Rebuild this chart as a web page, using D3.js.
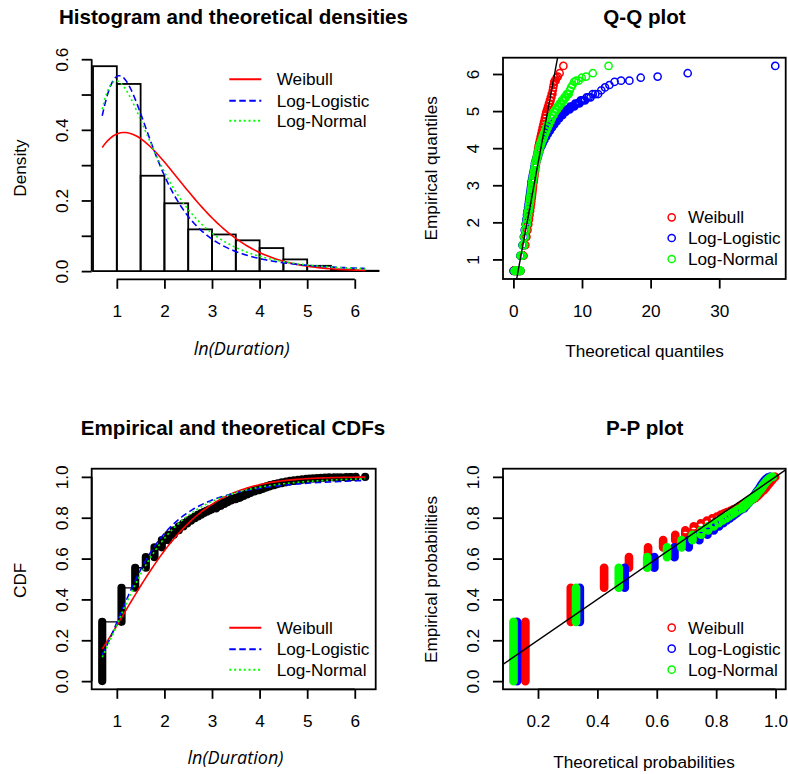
<!DOCTYPE html>
<html>
<head>
<meta charset="utf-8">
<script src="https://cdn.jsdelivr.net/npm/d3@7/dist/d3.min.js"></script>
<style>
body { margin: 0; background: #fff; }
text { font-family: "Liberation Sans", Arial, sans-serif; fill: #000; }
</style>
</head>
<body>
<svg width="788" height="774"></svg>
<script>
// observed durations (distinct values) and how many times each one occurs
var durations = [2, 3, 4, 5, 6, 7, 8, 9, 10, 11, 12, 13, 14, 15, 16, 17, 18, 19, 20,
    22, 24, 26, 28, 30, 33, 36, 39, 42, 45, 49, 54, 58, 63, 68, 74, 80, 87,
    95, 103, 112, 122, 133, 145, 155, 168, 182, 198, 215, 235,
    260, 281, 300, 327, 337, 365, 376, 412, 502];
var counts = [1085, 624, 367, 194, 180, 131, 100, 80, 72, 57, 50, 40, 35, 33, 28, 25, 23, 20, 17,
    45, 38, 33, 29, 26, 23, 33, 30, 28, 26, 24, 22, 26, 23, 21, 19, 17, 16,
    14, 12, 11, 9, 9, 7, 7, 6, 5, 4, 3, 3,
    1, 1, 1, 1, 2, 1, 1, 1, 1];

// fitted distributions on ln(Duration)
var fitNames = ["Weibull", "Log-Logistic", "Log-Normal"];
var fitColors = ["#ff0000", "#0000ff", "#00ff00"];
var fitDash = [null, "6.5,3.5", "2,2.8"];
var weibullPar = [1.68, 1.98];      // shape, scale
var loglogisPar = [2.70, 1.4025];   // shape, scale
var lognormPar = [0.37, 0.62];      // meanlog, sdlog

var histBreaks = [0.5, 1, 1.5, 2, 2.5, 3, 3.5, 4, 4.5, 5, 5.5, 6, 6.5];
var densTicks = [0, 0.1, 0.2, 0.3, 0.4, 0.5, 0.6];
var lnTicks = [1, 2, 3, 4, 5, 6];
var qqXTicks = [0, 10, 20, 30];
var qqYTicks = [1, 2, 3, 4, 5, 6];
var probTicks = [0, 0.2, 0.4, 0.6, 0.8, 1.0];
var ppXTicks = [0.2, 0.4, 0.6, 0.8, 1.0];

var FS = "17.2px";

function pnorm(z) {
    var t = 1 / (1 + 0.2316419 * Math.abs(z));
    var d = 0.3989423 * Math.exp(-z * z / 2);
    var p = d * t * (0.3193815 + t * (-0.3565638 + t * (1.781478 + t * (-1.821256 + t * 1.330274))));
    return z > 0 ? 1 - p : p;
}
function qnorm(p) {
    var a = [-39.69683028665376, 220.9460984245205, -275.9285104469687, 138.3577518672690, -30.66479806614716, 2.506628277459239];
    var b = [-54.47609879822406, 161.5858368580409, -155.6989798598866, 66.80131188771972, -13.28068155288572];
    var c = [-0.007784894002430293, -0.3223964580411365, -2.400758277161838, -2.549732539343734, 4.374664141464968, 2.938163982698783];
    var d = [0.007784695709041462, 0.3224671290700398, 2.445134137142996, 3.754408661907416];
    var q, r;
    if (p < 0.02425) {
        q = Math.sqrt(-2 * Math.log(p));
        return (((((c[0] * q + c[1]) * q + c[2]) * q + c[3]) * q + c[4]) * q + c[5]) / ((((d[0] * q + d[1]) * q + d[2]) * q + d[3]) * q + 1);
    }
    if (p > 1 - 0.02425) {
        q = Math.sqrt(-2 * Math.log(1 - p));
        return -(((((c[0] * q + c[1]) * q + c[2]) * q + c[3]) * q + c[4]) * q + c[5]) / ((((d[0] * q + d[1]) * q + d[2]) * q + d[3]) * q + 1);
    }
    q = p - 0.5; r = q * q;
    return (((((a[0] * r + a[1]) * r + a[2]) * r + a[3]) * r + a[4]) * r + a[5]) * q / (((((b[0] * r + b[1]) * r + b[2]) * r + b[3]) * r + b[4]) * r + 1);
}

var dists = [
    {
        pdf: function(x) { var k = weibullPar[0], l = weibullPar[1]; return k / l * Math.pow(x / l, k - 1) * Math.exp(-Math.pow(x / l, k)); },
        cdf: function(x) { return 1 - Math.exp(-Math.pow(x / weibullPar[1], weibullPar[0])); },
        q: function(p) { return weibullPar[1] * Math.pow(-Math.log(1 - p), 1 / weibullPar[0]); }
    },
    {
        pdf: function(x) { var b = loglogisPar[0], a = loglogisPar[1], u = Math.pow(x / a, b); return b / a * Math.pow(x / a, b - 1) / ((1 + u) * (1 + u)); },
        cdf: function(x) { return 1 / (1 + Math.pow(x / loglogisPar[1], -loglogisPar[0])); },
        q: function(p) { return loglogisPar[1] * Math.pow(p / (1 - p), 1 / loglogisPar[0]); }
    },
    {
        pdf: function(x) { var m = lognormPar[0], s = lognormPar[1], z = (Math.log(x) - m) / s; return Math.exp(-z * z / 2) / (x * s * Math.sqrt(2 * Math.PI)); },
        cdf: function(x) { return pnorm((Math.log(x) - lognormPar[0]) / lognormPar[1]); },
        q: function(p) { return Math.exp(lognormPar[0] + lognormPar[1] * qnorm(p)); }
    }
];

// sorted sample of ln(Duration)
var sample = [];
durations.forEach(function(d, i) {
    for (var j = 0; j < counts[i]; j++) sample.push(Math.log(d));
});
var n = sample.length;
var pp = sample.map(function(v, i) { return (i + 0.5) / n; });

var svg = d3.select("svg");

function extend(ext) {
    var r = ext[1] - ext[0];
    return [ext[0] - 0.04 * r, ext[1] + 0.04 * r];
}

var panels = [
    {l: 91.7, r: 375.7, t: 58, b: 279.3},
    {l: 503, r: 785.7, t: 57.7, b: 279},
    {l: 91.7, r: 375.7, t: 468.7, b: 689.3},
    {l: 503, r: 785.7, t: 468.7, b: 689.3}
];

panels.forEach(function(p, i) {
    svg.append("clipPath").attr("id", "clip" + i)
        .append("rect").attr("x", p.l).attr("y", p.t)
        .attr("width", p.r - p.l).attr("height", p.b - p.t);
});

function circlesPath(xs, ys, r) {
    var s = "";
    for (var i = 0; i < xs.length; i++) {
        s += "M" + (xs[i] - r).toFixed(2) + "," + ys[i].toFixed(2) +
            "a" + r + "," + r + " 0 1,0 " + (2 * r) + ",0a" + r + "," + r + " 0 1,0 " + (-2 * r) + ",0";
    }
    return s;
}

function xAxis(p, x, ticks, fmt) {
    var g = svg.append("g").attr("transform", "translate(0," + p.b + ")");
    g.call(d3.axisBottom(x).tickValues(ticks).tickFormat(fmt).tickSizeOuter(0).tickSize(9.5));
    g.select(".domain").attr("d", "M" + x(ticks[0]) + ",0H" + x(ticks[ticks.length - 1]));
    g.selectAll("line, path").attr("stroke", "#000").attr("stroke-width", 1.8);
    g.selectAll("text").attr("y", 37.5).attr("dy", 0)
        .style("font-size", FS).style("font-family", "Liberation Sans, Arial, sans-serif").attr("fill", "#000");
    return g;
}

function yAxis(p, y, ticks, fmt) {
    var g = svg.append("g").attr("transform", "translate(" + p.l + ",0)");
    g.call(d3.axisLeft(y).tickValues(ticks).tickFormat(fmt).tickSizeOuter(0).tickSize(10));
    g.select(".domain").attr("d", "M0," + y(ticks[0]) + "V" + y(ticks[ticks.length - 1]));
    g.selectAll("line, path").attr("stroke", "#000").attr("stroke-width", 1.8);
    g.selectAll("text").attr("transform", "rotate(-90)").attr("x", 0).attr("y", -23.6).attr("dy", 0)
        .attr("text-anchor", "middle")
        .style("font-size", FS).style("font-family", "Liberation Sans, Arial, sans-serif").attr("fill", "#000");
    return g;
}

function box(p) {
    svg.append("rect").attr("x", p.l).attr("y", p.t).attr("width", p.r - p.l).attr("height", p.b - p.t)
        .attr("fill", "none").attr("stroke", "#000").attr("stroke-width", 1.8);
}

function title(txt, cx, y) {
    svg.append("text").attr("x", cx).attr("y", y).attr("text-anchor", "middle")
        .style("font-size", "20.6px").style("font-weight", "bold").text(txt);
}

function label(txt, cx, y, rotate, italic) {
    var t = svg.append("text").attr("text-anchor", "middle").style("font-size", FS).text(txt);
    if (rotate) t.attr("transform", "translate(" + cx + "," + y + ") rotate(-90)");
    else t.attr("x", cx).attr("y", y);
    if (italic) t.style("font-style", "italic").style("font-family", "'Open Sans', 'DejaVu Sans', sans-serif").style("font-size", "18px");
}

function lineLegend(x0, ys) {
    fitNames.forEach(function(name, i) {
        svg.append("line").attr("x1", x0).attr("x2", x0 + 32).attr("y1", ys[i]).attr("y2", ys[i])
            .attr("stroke", fitColors[i]).attr("stroke-width", 2).attr("stroke-dasharray", fitDash[i]);
        svg.append("text").attr("x", x0 + 47.4).attr("y", ys[i] + 6).style("font-size", FS).text(name);
    });
}

function pointLegend(cx, ys) {
    fitNames.forEach(function(name, i) {
        svg.append("circle").attr("cx", cx).attr("cy", ys[i]).attr("r", 3.6)
            .attr("fill", "none").attr("stroke", fitColors[i]).attr("stroke-width", 1.5);
        svg.append("text").attr("x", cx + 16.3).attr("y", ys[i] + 6).style("font-size", FS).text(name);
    });
}

var lnExt = extend(d3.extent(sample));
var curveX = d3.range(101).map(function(i) { return sample[0] + (sample[n - 1] - sample[0]) * i / 100; });

// ---- panel 1: histogram and densities
var p1 = panels[0];
var bins = d3.bin().domain([histBreaks[0], histBreaks[histBreaks.length - 1]])
    .thresholds(histBreaks.slice(1, -1))(sample);
bins.forEach(function(b) { b.density = b.length / (n * (b.x1 - b.x0)); });
var densMax = d3.max(bins, function(b) { return b.density; });
var x1 = d3.scaleLinear().domain(lnExt).range([p1.l, p1.r]);
var y1 = d3.scaleLinear().domain(extend([0, densMax])).range([p1.b, p1.t]);

svg.append("g").selectAll("rect").data(bins).enter().append("rect")
    .attr("x", function(b) { return x1(b.x0); })
    .attr("y", function(b) { return y1(b.density); })
    .attr("width", function(b) { return x1(b.x1) - x1(b.x0); })
    .attr("height", function(b) { return y1(0) - y1(b.density); })
    .attr("fill", "none").attr("stroke", "#000").attr("stroke-width", 1.8);

dists.forEach(function(dist, i) {
    svg.append("path").attr("clip-path", "url(#clip0)")
        .attr("d", d3.line().x(function(v) { return x1(v); }).y(function(v) { return y1(dist.pdf(v)); })(curveX))
        .attr("fill", "none").attr("stroke", fitColors[i]).attr("stroke-width", 1.6)
        .attr("stroke-dasharray", fitDash[i]);
});
xAxis(p1, x1, lnTicks, d3.format("d"));
var ya1 = yAxis(p1, y1, densTicks, d3.format(".1f"));
ya1.selectAll("text").filter(function(d, i) { return i % 2 === 1; }).remove();
title("Histogram and theoretical densities", 233.5, 24);
label("Density", 25.5, 168, true);
label("ln(Duration)", 241.7, 355.3, false, true);
lineLegend(229.3, [79.3, 100.7, 120.7]);

// ---- panel 2: Q-Q plot
var p2 = panels[1];
var qq = dists.map(function(dist) { return pp.map(function(p) { return dist.q(p); }); });
var qqExt = [d3.min(qq, function(a) { return d3.min(a); }), d3.max(qq, function(a) { return d3.max(a); })];
var x2 = d3.scaleLinear().domain(extend(qqExt)).range([p2.l, p2.r]);
var y2 = d3.scaleLinear().domain(lnExt).range([p2.b, p2.t]);
var yPix2 = sample.map(function(v) { return y2(v); });
qq.forEach(function(arr, i) {
    svg.append("path").attr("clip-path", "url(#clip1)")
        .attr("d", circlesPath(arr.map(function(v) { return x2(v); }), yPix2, 3.6))
        .attr("fill", "none").attr("stroke", fitColors[i]).attr("stroke-width", 1.5);
});
svg.append("line").attr("clip-path", "url(#clip1)")
    .attr("x1", x2(0)).attr("y1", y2(0)).attr("x2", x2(10)).attr("y2", y2(10))
    .attr("stroke", "#000").attr("stroke-width", 1.4);
box(p2);
xAxis(p2, x2, qqXTicks, d3.format("d"));
yAxis(p2, y2, qqYTicks, d3.format("d"));
title("Q-Q plot", 644.5, 24);
label("Empirical quantiles", 437, 168.3, true);
label("Theoretical quantiles", 644.5, 357.3);
pointLegend(671.7, [217.3, 238, 259]);

// ---- panel 3: empirical and theoretical CDFs
var p3 = panels[2];
var x3 = d3.scaleLinear().domain(lnExt).range([p3.l, p3.r]);
var y3 = d3.scaleLinear().domain([-0.04, 1.04]).range([p3.b, p3.t]);
var cum = 0, steps = [];
durations.forEach(function(d, i) { cum += counts[i]; steps.push([Math.log(d), cum / n]); });
var stepPath = "";
for (var i = 0; i < steps.length - 1; i++) {
    stepPath += "M" + x3(steps[i][0]) + "," + y3(steps[i][1]) + "H" + x3(steps[i + 1][0]);
}
svg.append("path").attr("d", stepPath).attr("stroke", "#000").attr("stroke-width", 1.3).attr("fill", "none");
svg.append("path").attr("clip-path", "url(#clip2)")
    .attr("d", circlesPath(sample.map(function(v) { return x3(v); }), pp.map(function(p) { return y3(p); }), 4.1))
    .attr("fill", "#000");
dists.forEach(function(dist, i) {
    svg.append("path").attr("clip-path", "url(#clip2)")
        .attr("d", d3.line().x(function(v) { return x3(v); }).y(function(v) { return y3(dist.cdf(v)); })(curveX))
        .attr("fill", "none").attr("stroke", fitColors[i]).attr("stroke-width", 1.6)
        .attr("stroke-dasharray", fitDash[i]);
});
box(p3);
xAxis(p3, x3, lnTicks, d3.format("d"));
yAxis(p3, y3, probTicks, d3.format(".1f"));
title("Empirical and theoretical CDFs", 233, 434.7);
label("CDF", 26, 580.3, true);
label("ln(Duration)", 235.5, 763.7, false, true);
lineLegend(229.3, [627.7, 649.3, 669.7]);

// ---- panel 4: P-P plot
var p4 = panels[3];
var ppTheo = dists.map(function(dist) { return sample.map(function(v) { return dist.cdf(v); }); });
var ppExt = [d3.min(ppTheo, function(a) { return d3.min(a); }), d3.max(ppTheo, function(a) { return d3.max(a); })];
var x4 = d3.scaleLinear().domain(extend(ppExt)).range([p4.l, p4.r]);
var y4 = d3.scaleLinear().domain([-0.04, 1.04]).range([p4.b, p4.t]);
var yPix4 = pp.map(function(p) { return y4(p); });
ppTheo.forEach(function(arr, i) {
    svg.append("path").attr("clip-path", "url(#clip3)")
        .attr("d", circlesPath(arr.map(function(v) { return x4(v); }), yPix4, 3.6))
        .attr("fill", "none").attr("stroke", fitColors[i]).attr("stroke-width", 1.5);
});
svg.append("line").attr("clip-path", "url(#clip3)")
    .attr("x1", x4(0)).attr("y1", y4(0)).attr("x2", x4(1.1)).attr("y2", y4(1.1))
    .attr("stroke", "#000").attr("stroke-width", 1.4);
box(p4);
xAxis(p4, x4, ppXTicks, d3.format(".1f"));
yAxis(p4, y4, probTicks, d3.format(".1f"));
title("P-P plot", 644.7, 434.7);
label("Empirical probabilities", 437, 579.5, true);
label("Theoretical probabilities", 644, 768);
pointLegend(671.7, [627.7, 648.7, 669.7]);
</script>
</body>
</html>
